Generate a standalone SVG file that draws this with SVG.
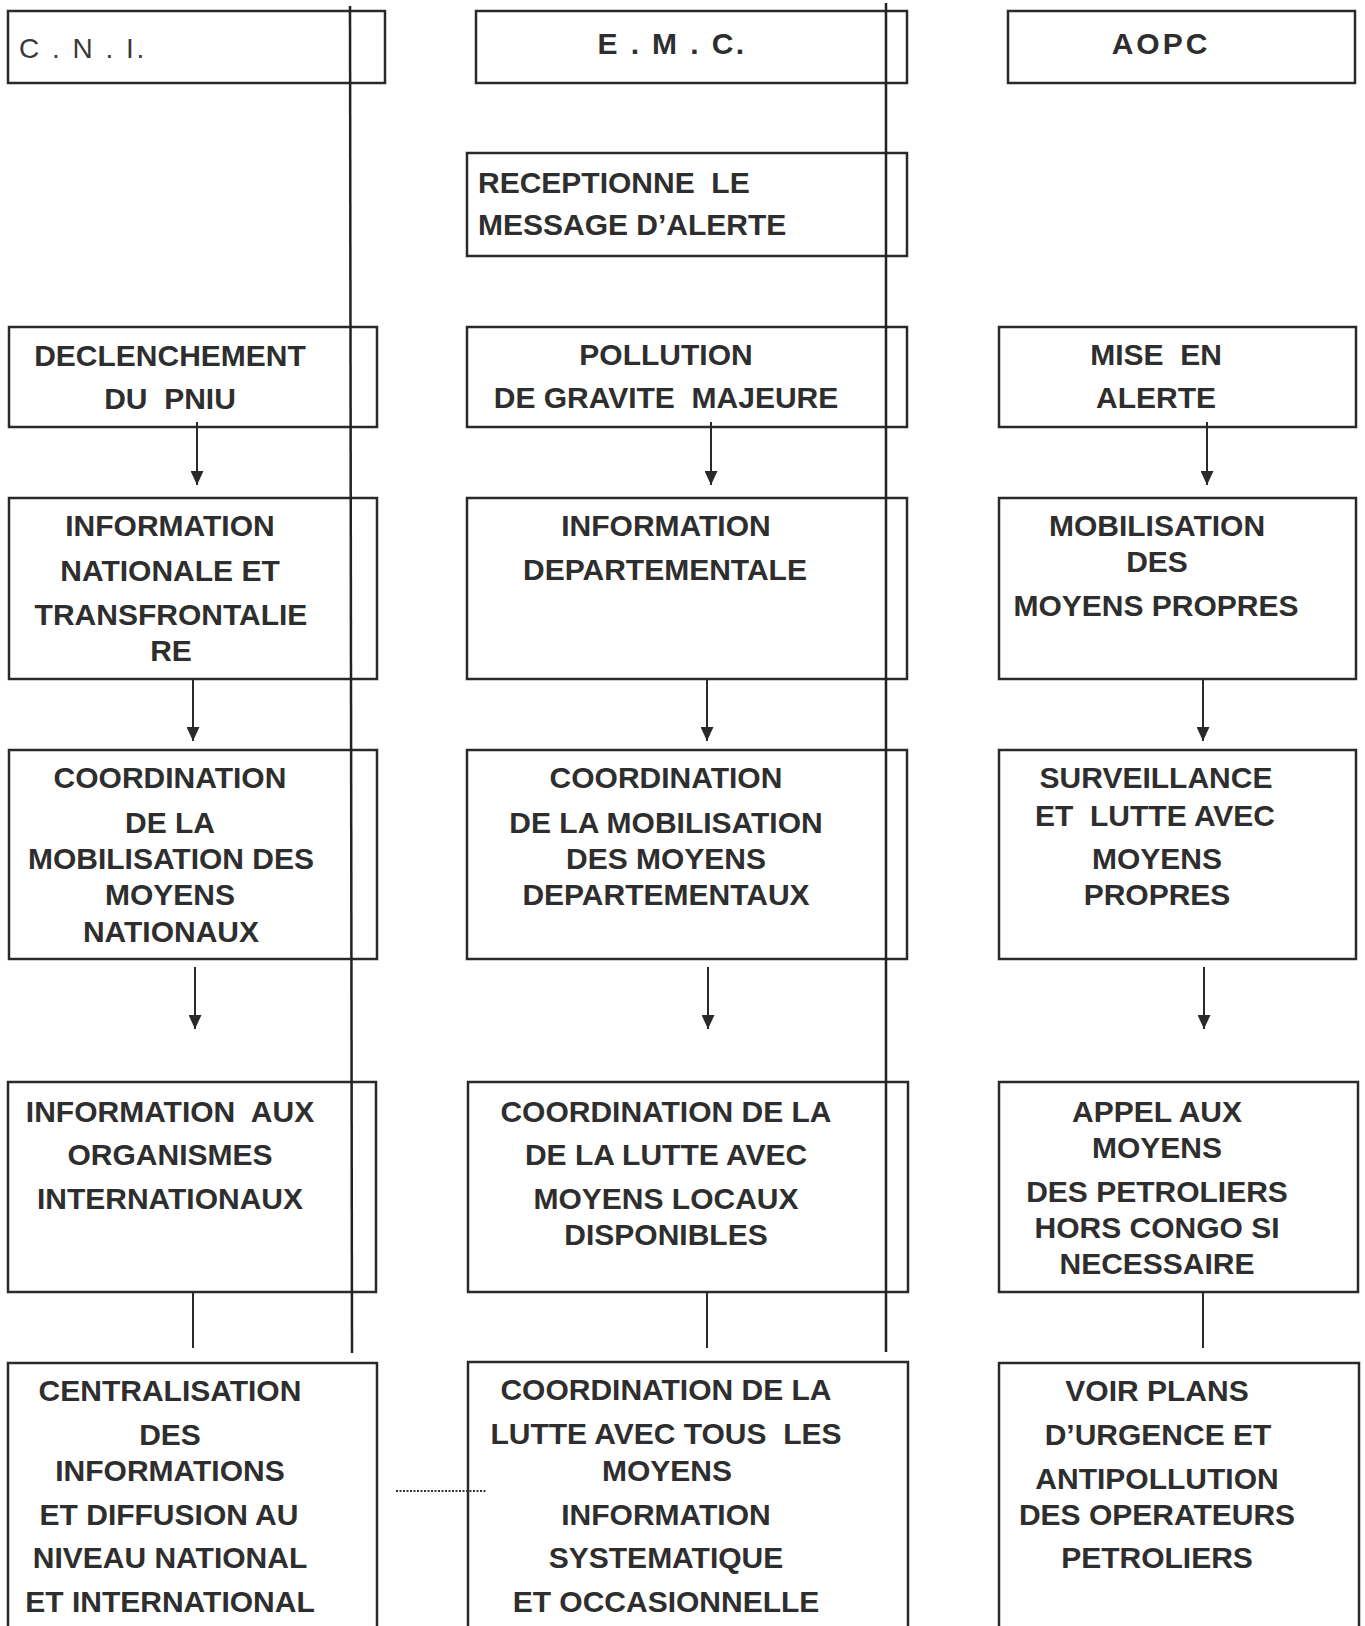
<svg xmlns="http://www.w3.org/2000/svg" width="1365" height="1626" viewBox="0 0 1365 1626">
<style>
  .box { fill: #ffffff; stroke: #2a2a2a; stroke-width: 2.5; }
  .open { fill: none; stroke: #2a2a2a; stroke-width: 2.5; }
  .t { font-family: "Liberation Sans", Arial, sans-serif; font-weight: bold; font-size: 30px; fill: #2e2e2e; text-anchor: middle; }
  .tl { text-anchor: start; }
  .hdr { font-family: "Liberation Sans", Arial, sans-serif; font-weight: normal; font-size: 28px; fill: #3a3a3a; letter-spacing: 2.5px; }
  .arrow { stroke: #2a2a2a; stroke-width: 2; fill: none; marker-end: url(#ah); }
  .link { stroke: #2a2a2a; stroke-width: 2; fill: none; }
  .lane { stroke: #222222; stroke-width: 2.5; fill: none; }
  .dots { stroke: #333333; stroke-width: 2; fill: none; stroke-dasharray: 2 1.5; }
</style>
<defs>
  <marker id="ah" markerUnits="userSpaceOnUse" markerWidth="15" markerHeight="13" refX="14" refY="6.5" orient="auto" viewBox="0 0 15 13">
    <path d="M0,0 L14,6.5 L0,13 Z" fill="#2a2a2a"/>
  </marker>
</defs>
<rect width="1365" height="1626" fill="#ffffff"/>

<!-- Headers -->
<g id="cni">
  <rect class="box" x="8" y="11" width="377" height="72"/>
  <text class="hdr" x="19" y="58">C . N . I.</text>
</g>
<g id="emc">
  <rect class="box" x="476" y="11" width="431" height="72"/>
  <text class="t" x="672" y="54" style="letter-spacing:2.4px">E . M . C.</text>
</g>
<g id="aopc">
  <rect class="box" x="1008" y="11" width="347" height="72"/>
  <text class="t" x="1161" y="54" style="letter-spacing:3px">AOPC</text>
</g>

<g id="receptionne">
  <rect class="box" x="467" y="153" width="440" height="103"/>
  <text class="t tl" x="478" y="193" xml:space="preserve">RECEPTIONNE  LE</text>
  <text class="t tl" x="478" y="235">MESSAGE D’ALERTE</text>
</g>

<!-- Row 2 -->
<g id="declenchement">
  <rect class="box" x="9" y="327" width="368" height="100"/>
  <text class="t" x="170" y="366">DECLENCHEMENT</text>
  <text class="t" x="170" y="409" xml:space="preserve">DU  PNIU</text>
</g>
<g id="pollution">
  <rect class="box" x="467" y="327" width="440" height="100"/>
  <text class="t" x="666" y="365">POLLUTION</text>
  <text class="t" x="666" y="408" xml:space="preserve">DE GRAVITE  MAJEURE</text>
</g>
<g id="mise-en-alerte">
  <rect class="box" x="999" y="327" width="357" height="100"/>
  <text class="t" x="1156" y="365" xml:space="preserve">MISE  EN</text>
  <text class="t" x="1156" y="408">ALERTE</text>
</g>

<!-- Row 3 -->
<g id="info-nationale">
  <rect class="box" x="9" y="498" width="368" height="181"/>
  <text class="t" x="170" y="536">INFORMATION</text>
  <text class="t" x="170" y="581">NATIONALE ET</text>
  <text class="t" x="171" y="625">TRANSFRONTALIE</text>
  <text class="t" x="171" y="661">RE</text>
</g>
<g id="info-departementale">
  <rect class="box" x="467" y="498" width="440" height="181"/>
  <text class="t" x="666" y="536">INFORMATION</text>
  <text class="t" x="665" y="580">DEPARTEMENTALE</text>
</g>
<g id="mobilisation-propres">
  <rect class="box" x="999" y="498" width="357" height="181"/>
  <text class="t" x="1157" y="536">MOBILISATION</text>
  <text class="t" x="1157" y="572">DES</text>
  <text class="t" x="1156" y="616">MOYENS PROPRES</text>
</g>

<!-- Row 4 -->
<g id="coord-nationaux">
  <rect class="box" x="9" y="750" width="368" height="209"/>
  <text class="t" x="170" y="788">COORDINATION</text>
  <text class="t" x="170" y="833">DE LA</text>
  <text class="t" x="171" y="869">MOBILISATION DES</text>
  <text class="t" x="170" y="905">MOYENS</text>
  <text class="t" x="171" y="942">NATIONAUX</text>
</g>
<g id="coord-departementaux">
  <rect class="box" x="467" y="750" width="440" height="209"/>
  <text class="t" x="666" y="788">COORDINATION</text>
  <text class="t" x="666" y="833">DE LA MOBILISATION</text>
  <text class="t" x="666" y="869">DES MOYENS</text>
  <text class="t" x="666" y="905">DEPARTEMENTAUX</text>
</g>
<g id="surveillance">
  <rect class="box" x="999" y="750" width="357" height="209"/>
  <text class="t" x="1156" y="788">SURVEILLANCE</text>
  <text class="t" x="1155" y="826" xml:space="preserve">ET  LUTTE AVEC</text>
  <text class="t" x="1157" y="869">MOYENS</text>
  <text class="t" x="1157" y="905">PROPRES</text>
</g>

<!-- Row 5 -->
<g id="info-organismes">
  <rect class="box" x="8" y="1082" width="368" height="210"/>
  <text class="t" x="170" y="1122" xml:space="preserve">INFORMATION  AUX</text>
  <text class="t" x="170" y="1165">ORGANISMES</text>
  <text class="t" x="170" y="1209">INTERNATIONAUX</text>
</g>
<g id="coord-lutte-locaux">
  <rect class="box" x="468" y="1082" width="440" height="210"/>
  <text class="t" x="666" y="1122">COORDINATION DE LA</text>
  <text class="t" x="666" y="1165">DE LA LUTTE AVEC</text>
  <text class="t" x="666" y="1209">MOYENS LOCAUX</text>
  <text class="t" x="666" y="1245">DISPONIBLES</text>
</g>
<g id="appel-petroliers">
  <rect class="box" x="999" y="1082" width="359" height="210"/>
  <text class="t" x="1157" y="1122">APPEL AUX</text>
  <text class="t" x="1157" y="1158">MOYENS</text>
  <text class="t" x="1157" y="1202">DES PETROLIERS</text>
  <text class="t" x="1157" y="1238">HORS CONGO SI</text>
  <text class="t" x="1157" y="1274">NECESSAIRE</text>
</g>

<!-- Row 6 -->
<g id="centralisation">
  <path class="open" d="M8,1626 V1363 H377 V1626"/>
  <text class="t" x="170" y="1401">CENTRALISATION</text>
  <text class="t" x="170" y="1445">DES</text>
  <text class="t" x="170" y="1481">INFORMATIONS</text>
  <text class="t" x="169" y="1525">ET DIFFUSION AU</text>
  <text class="t" x="170" y="1568">NIVEAU NATIONAL</text>
  <text class="t" x="170" y="1612">ET INTERNATIONAL</text>
</g>
<g id="coord-lutte-tous">
  <path class="open" d="M468,1626 V1362 H908 V1626"/>
  <text class="t" x="666" y="1400">COORDINATION DE LA</text>
  <text class="t" x="666" y="1444" xml:space="preserve">LUTTE AVEC TOUS  LES</text>
  <text class="t" x="667" y="1481">MOYENS</text>
  <text class="t" x="666" y="1525">INFORMATION</text>
  <text class="t" x="666" y="1568">SYSTEMATIQUE</text>
  <text class="t" x="666" y="1612">ET OCCASIONNELLE</text>
</g>
<g id="voir-plans">
  <path class="open" d="M999,1626 V1363 H1359 V1626"/>
  <text class="t" x="1157" y="1401">VOIR PLANS</text>
  <text class="t" x="1158" y="1445">D’URGENCE ET</text>
  <text class="t" x="1157" y="1489">ANTIPOLLUTION</text>
  <text class="t" x="1157" y="1525">DES OPERATEURS</text>
  <text class="t" x="1157" y="1568">PETROLIERS</text>
</g>

<!-- Connectors -->
<g id="connectors">
  <line class="lane" x1="350" y1="6" x2="352" y2="1353"/>
  <line class="lane" x1="886" y1="3" x2="886" y2="1352"/>

  <line class="arrow" x1="197" y1="422" x2="197" y2="485"/>
  <line class="arrow" x1="711" y1="422" x2="711" y2="485"/>
  <line class="arrow" x1="1207" y1="422" x2="1207" y2="485"/>

  <line class="arrow" x1="193" y1="679" x2="193" y2="741"/>
  <line class="arrow" x1="707" y1="679" x2="707" y2="741"/>
  <line class="arrow" x1="1203" y1="679" x2="1203" y2="741"/>

  <line class="arrow" x1="195" y1="967" x2="195" y2="1029"/>
  <line class="arrow" x1="708" y1="967" x2="708" y2="1029"/>
  <line class="arrow" x1="1204" y1="967" x2="1204" y2="1029"/>

  <line class="link" x1="193" y1="1292" x2="193" y2="1348"/>
  <line class="link" x1="707" y1="1292" x2="707" y2="1348"/>
  <line class="link" x1="1203" y1="1292" x2="1203" y2="1348"/>

  <line class="dots" x1="396" y1="1491" x2="487" y2="1491"/>
</g>
</svg>
